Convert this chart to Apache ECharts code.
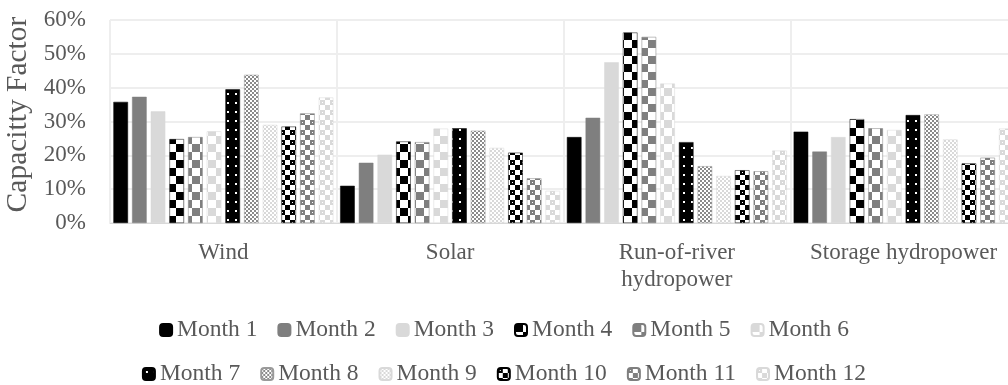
<!DOCTYPE html>
<html>
<head>
<meta charset="utf-8">
<script src="https://cdn.jsdelivr.net/npm/echarts@6/dist/echarts.min.js"></script>
<style>html,body{margin:0;padding:0;background:#fff;}#chart{width:1008px;height:385px;}</style>
</head>
<body>
<div id="chart"></div>
<script>
const categories = ['Wind', 'Solar', 'Run-of-river\nhydropower', 'Storage hydropower'];
const seriesNames = ['Month 1','Month 2','Month 3','Month 4','Month 5','Month 6','Month 7','Month 8','Month 9','Month 10','Month 11','Month 12'];
const month1  = [35.8, 11.0, 25.4, 27.0];
const month2  = [37.3, 17.8, 31.1, 21.1];
const month3  = [33.0, 20.2, 47.5, 25.4];
const month4  = [24.8, 24.1, 56.3, 30.7];
const month5  = [25.4, 23.9, 55.0, 28.0];
const month6  = [27.1, 27.9, 41.2, 27.5];
const month7  = [39.5, 28.0, 23.9, 31.9];
const month8  = [43.8, 27.3, 16.8, 32.1];
const month9  = [29.0, 22.2, 13.9, 24.7];
const month10 = [28.5, 20.8, 15.6, 17.6];
const month11 = [32.4, 13.2, 15.3, 19.3];
const month12 = [37.1,  9.5, 21.4, 27.9];
const yTicks = [0, 10, 20, 30, 40, 50, 60];
const allData = [month1, month2, month3, month4, month5, month6, month7, month8, month9, month10, month11, month12];

function makeTile(w, h, draw) {
  const c = document.createElement('canvas');
  c.width = w; c.height = h;
  const ctx = c.getContext('2d');
  ctx.fillStyle = '#ffffff'; ctx.fillRect(0, 0, w, h);
  draw(ctx);
  return { image: c, repeat: 'repeat' };
}
function checker(color, cell) {
  return makeTile(cell * 2, cell * 2, ctx => {
    ctx.fillStyle = color;
    ctx.fillRect(0, 0, cell, cell);
    ctx.fillRect(cell, cell, cell, cell);
  });
}
function dots(bg, dot) {
  return makeTile(8, 9, ctx => {
    ctx.fillStyle = bg; ctx.fillRect(0, 0, 8, 9);
    ctx.fillStyle = dot; ctx.fillRect(3, 3, 2, 2);
  });
}
function circleChecker(color) {
  return makeTile(10, 10, ctx => {
    ctx.fillStyle = color;
    ctx.fillRect(0, 0, 5, 5);
    ctx.fillRect(5, 5, 5, 5);
    ctx.fillStyle = '#ffffff';
    ctx.fillRect(2, 2, 1, 1);
    ctx.fillStyle = color;
    ctx.fillRect(7, 7, 1, 1);
  });
}
const fills = [
  '#000000', '#7f7f7f', '#d9d9d9',
  checker('#000000', 8), checker('#7f7f7f', 8), checker('#d9d9d9', 8),
  dots('#000000', '#ffffff'), checker('#8a8a8a', 2), checker('#d9d9d9', 2),
  circleChecker('#000000'), circleChecker('#7f7f7f'), circleChecker('#d9d9d9')
];
const borders = ['#000000','#7f7f7f','#d9d9d9','#000000','#7f7f7f','#d9d9d9','#000000','#9a9a9a','#d9d9d9','#000000','#7f7f7f','#d9d9d9'];

const font = '"Liberation Serif", "Times New Roman", serif';
const txt = '#595959';

const series = seriesNames.map((n, i) => ({
  name: n,
  type: 'bar',
  data: allData[i],
  barGap: '28%',
  barCategoryGap: '3%',
  itemStyle: { color: fills[i], borderColor: borders[i], borderWidth: 0.5 },
  emphasis: { disabled: true },
  animation: false
}));

const legendCommon = { left: 'center', itemWidth: 12, itemHeight: 12, itemGap: 20,
  textStyle: { fontFamily: font, fontSize: 23.5, color: txt } };

const chart = echarts.init(document.getElementById('chart'), null, { renderer: 'canvas' });
chart.setOption({
  animation: false,
  grid: { left: 110, right: -9, top: 20, bottom: 162, containLabel: false, outerBoundsMode: 'none' },
  legend: [
    Object.assign({ data: seriesNames.slice(0, 6), top: 313 }, legendCommon),
    Object.assign({ data: seriesNames.slice(6), top: 357 }, legendCommon)
  ],
  xAxis: {
    type: 'category',
    data: categories,
    axisLine: { lineStyle: { color: '#d9d9d9' } },
    axisTick: { show: false },
    splitLine: { show: true, lineStyle: { color: '#eeeeee', width: 2 } },
    axisLabel: { fontFamily: font, fontSize: 23, color: txt, margin: 16, lineHeight: 27, interval: 0 }
  },
  yAxis: {
    type: 'value',
    min: yTicks[0], max: yTicks[yTicks.length - 1], interval: 10,
    name: 'Capacitty Factor',
    nameLocation: 'middle',
    nameGap: 74,
    nameTextStyle: { fontFamily: font, fontSize: 29.5, color: txt, padding: [0, 0, 0, 14] },
    axisLine: { show: false },
    axisTick: { show: false },
    splitLine: { lineStyle: { color: '#eeeeee', width: 2 } },
    axisLabel: { fontFamily: font, fontSize: 23, color: txt, margin: 24, formatter: '{value}%' }
  },
  series: series
});
</script>
</body>
</html>
